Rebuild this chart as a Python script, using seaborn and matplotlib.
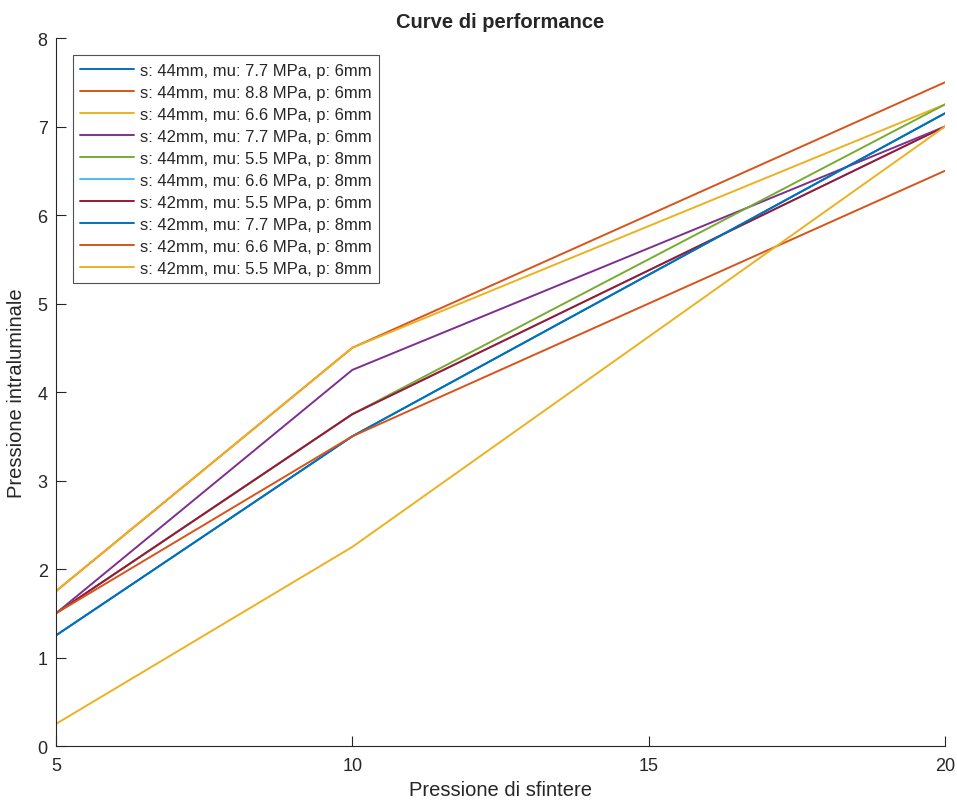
import pandas as pd
import matplotlib.pyplot as plt
import seaborn as sns

# x values: sphincter pressure
pressione_sfintere = [5, 10, 20]

labels = [
    "s: 44mm, mu: 7.7 MPa, p: 6mm",
    "s: 44mm, mu: 8.8 MPa, p: 6mm",
    "s: 44mm, mu: 6.6 MPa, p: 6mm",
    "s: 42mm, mu: 7.7 MPa, p: 6mm",
    "s: 44mm, mu: 5.5 MPa, p: 8mm",
    "s: 44mm, mu: 6.6 MPa, p: 8mm",
    "s: 42mm, mu: 5.5 MPa, p: 6mm",
    "s: 42mm, mu: 7.7 MPa, p: 8mm",
    "s: 42mm, mu: 6.6 MPa, p: 8mm",
    "s: 42mm, mu: 5.5 MPa, p: 8mm",
]

# intraluminal pressure for each curve
curva_1 = [1.25, 3.5, 7.15]
curva_2 = [1.75, 4.5, 7.5]
curva_3 = [1.75, 4.5, 7.25]
curva_4 = [1.5, 4.25, 7.0]
curva_5 = [1.5, 3.75, 7.25]
curva_6 = [1.5, 3.75, 7.0]
curva_7 = [1.5, 3.75, 7.0]
curva_8 = [1.25, 3.5, 7.15]
curva_9 = [1.5, 3.5, 6.5]
curva_10 = [0.25, 2.25, 7.0]
curve = [curva_1, curva_2, curva_3, curva_4, curva_5,
         curva_6, curva_7, curva_8, curva_9, curva_10]

# MATLAB default line colors
matlab_colors = ["#0072BD", "#D95319", "#EDB120", "#7E2F8E", "#77AC30",
                 "#4DBEEE", "#A2142F"]
palette = [matlab_colors[i % 7] for i in range(len(labels))]

rows = []
for lab, vals in zip(labels, curve):
    for x, y in zip(pressione_sfintere, vals):
        rows.append({"x": x, "y": y, "serie": lab})
df = pd.DataFrame(rows)

sns.set_style("white")
plt.rcParams["font.family"] = ["Liberation Sans", "DejaVu Sans"]

fig = plt.figure(figsize=(9.57, 8.03), dpi=100)
ax = fig.add_axes([0.0585, 0.0697, 0.929, 0.8817])

sns.lineplot(data=df, x="x", y="y", hue="serie", hue_order=labels,
             palette=palette, linewidth=1.4, ax=ax, estimator=None, sort=False)

ax.set_xlim(5, 20)
ax.set_ylim(0, 8)
ax.set_xticks([5, 10, 15, 20])
ax.set_yticks(range(0, 9))
ax.tick_params(direction="in", length=7, width=0.8, colors="#262626",
               labelsize=13, left=True, bottom=True)
ax.tick_params(axis="x", pad=8)
ax.tick_params(axis="y", pad=6)
for s in ["top", "right"]:
    ax.spines[s].set_visible(False)
for s in ["left", "bottom"]:
    ax.spines[s].set_color("#262626")
    ax.spines[s].set_linewidth(0.8)

ax.set_xlabel("Pressione di sfintere", fontsize=14.5, color="#262626", labelpad=4)
ax.set_ylabel("Pressione intraluminale", fontsize=14.5, color="#262626", labelpad=8)
ax.set_title("Curve di performance", fontsize=14.5, fontweight="bold", pad=8)

leg = ax.legend(loc="upper left", bbox_to_anchor=(0.019, 0.976), fontsize=12,
                frameon=True, fancybox=False, edgecolor="#262626",
                handlelength=3.2, handletextpad=0.36, labelspacing=0.42,
                borderpad=0.45, borderaxespad=0)
leg.get_frame().set_linewidth(0.8)

fig.savefig("out.png", dpi=100)
